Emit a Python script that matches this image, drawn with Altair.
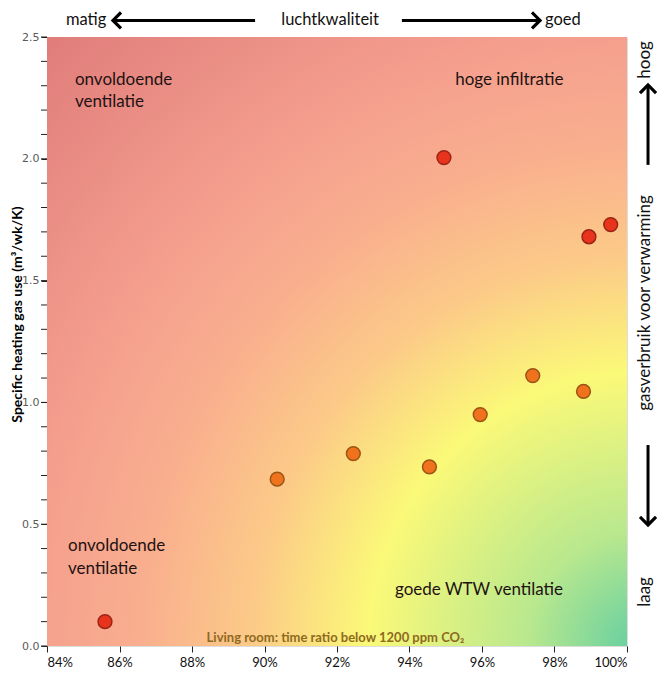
import altair as alt
import pandas as pd

# ---- data ----
ratio = [0.856, 0.9035, 0.9245, 0.9455, 0.9595, 0.974, 0.988, 0.9895, 0.9955, 0.9495]
gas_use = [0.10, 0.685, 0.79, 0.735, 0.95, 1.11, 1.045, 1.68, 1.73, 2.005]
group = ["rood", "oranje", "oranje", "oranje", "oranje", "oranje", "oranje", "rood", "rood", "rood"]

x_ticks = [0.84, 0.86, 0.88, 0.90, 0.92, 0.94, 0.96, 0.98, 1.00]
y_ticks = [0.0, 0.5, 1.0, 1.5, 2.0, 2.5]
y_minor = [round(i * 0.1, 1) for i in range(26)]

# in-plot labels
lab_text = ["onvoldoende", "ventilatie", "hoge infiltratie", "onvoldoende", "ventilatie", "goede WTW ventilatie"]
lab_x = [0.8477, 0.8477, 0.9526, 0.8458, 0.8458, 0.9360]
lab_y = [2.323, 2.233, 2.323, 0.410, 0.316, 0.230]

# top (air quality) annotation
top_text = ["matig", "luchtkwaliteit", "goed"]
top_x = [0.8508, 0.9181, 0.9823]
top_y = 2.568

# right (gas use) annotation
right_text = ["hoog", "gasverbruik voor verwarming", "laag"]
right_y = [2.406, 1.408, 0.222]
right_x = 1.005

FONT = "Lato"

pts = pd.DataFrame({"ratio": ratio, "gas": gas_use, "group": group})
labs = pd.DataFrame({"t": lab_text, "x": lab_x, "y": lab_y})
tops = pd.DataFrame({"t": top_text, "x": top_x, "y": [top_y] * 3})
rights = pd.DataFrame({"t": right_text, "x": [right_x] * 3, "y": right_y})
bg = pd.DataFrame({"x": [0.84], "x2": [1.0], "y": [0.0], "y2": [2.5]})
minor = pd.DataFrame({"y": y_minor, "x": [0.83917] * len(y_minor)})

xs = alt.Scale(domain=[0.84, 1.0], nice=False, zero=False)
ys = alt.Scale(domain=[0, 2.5], nice=False, zero=False)

gradient = {
    "gradient": "radial",
    "x1": 1, "y1": 1, "r1": 0,
    "x2": 1, "y2": 1, "r2": 1.45,
    "stops": [
        {"offset": 0.0, "color": "#62cea2"},
        {"offset": 0.13, "color": "#b9e88e"},
        {"offset": 0.31, "color": "#fbf978"},
        {"offset": 0.44, "color": "#fcca88"},
        {"offset": 0.57, "color": "#f9ae8e"},
        {"offset": 0.70, "color": "#f49e8e"},
        {"offset": 1.0, "color": "#dd7878"},
    ],
}

background = alt.Chart(bg).mark_rect(fill=gradient).encode(
    x=alt.X("x:Q", scale=xs,
            axis=alt.Axis(values=x_ticks, format=".0%", title="Living room: time ratio below 1200 ppm CO₂",
                          grid=False, domain=False, tickSize=6, tickColor="#222", labelFont=FONT,
                          labelFontSize=13, labelColor="#111", labelPadding=4, zindex=1,
                          titleFont=FONT, titleFontSize=13, titleFontWeight="bold", titleColor="#8f6a1e",
                          titleX=288, titleY=-9, titleBaseline="middle", titleAnchor="middle")),
    x2="x2:Q",
    y=alt.Y("y:Q", scale=ys,
            axis=alt.Axis(values=y_ticks, format=".1f", labelOverlap=False,
                          title="Specific heating gas use (m³/wk/K)",
                          grid=False, domain=False, tickSize=6, tickColor="#222",
                          labelFont="DejaVu Sans", labelFontSize=11, labelColor="#5a5a5a", labelPadding=2,
                          titleFont=FONT, titleFontSize=14, titleFontWeight="bold", titleColor="#000",
                          titleX=-30, titleY=277, titleBaseline="middle", titleAngle=270)),
    y2="y2:Q",
)

minor_ticks = alt.Chart(minor).mark_tick(orient="horizontal", size=6, thickness=1, color="#222", opacity=1).encode(
    x=alt.X("x:Q", scale=xs), y=alt.Y("y:Q", scale=ys)
)

points = alt.Chart(pts).mark_point(filled=True, size=190, strokeWidth=1.5, opacity=1).encode(
    x=alt.X("ratio:Q", scale=xs),
    y=alt.Y("gas:Q", scale=ys),
    fill=alt.Fill("group:N", scale=alt.Scale(domain=["rood", "oranje"], range=["#e8341c", "#f0721c"]), legend=None),
    stroke=alt.Stroke("group:N", scale=alt.Scale(domain=["rood", "oranje"], range=["#9c2414", "#9a5416"]), legend=None),
)

labels = alt.Chart(labs).mark_text(align="left", baseline="middle", font=FONT, fontSize=17, color="#1e1212").encode(
    x=alt.X("x:Q", scale=xs), y=alt.Y("y:Q", scale=ys), text="t:N"
)

top_labels = alt.Chart(tops).mark_text(align="center", baseline="middle", font=FONT, fontSize=16.5, color="#111").encode(
    x=alt.X("x:Q", scale=xs), y=alt.Y("y:Q", scale=ys), text="t:N"
)

right_labels = alt.Chart(rights).mark_text(align="center", baseline="middle", font=FONT, fontSize=17,
                                           color="#111", angle=270).encode(
    x=alt.X("x:Q", scale=xs), y=alt.Y("y:Q", scale=ys), text="t:N"
)

# arrows
h_arrows = pd.DataFrame({"x": [0.8585, 0.9379], "x2": [0.8974, 0.9755], "y": [top_y, top_y]})
v_arrows = pd.DataFrame({"x": [1.0058, 1.0058], "y": [2.300, 0.825], "y2": [1.975, 0.500]})

h_lines = alt.Chart(h_arrows).mark_rule(strokeWidth=3, color="#000").encode(
    x=alt.X("x:Q", scale=xs), x2="x2:Q", y=alt.Y("y:Q", scale=ys)
)
v_lines = alt.Chart(v_arrows).mark_rule(strokeWidth=3, color="#000").encode(
    x=alt.X("x:Q", scale=xs), y=alt.Y("y:Q", scale=ys), y2="y2:Q"
)

heads = pd.DataFrame({
    "x": [0.8582, 0.9760, 1.0058, 1.0058],
    "y": [top_y, top_y, 2.303, 0.497],
    "dir": ["left", "right", "up", "down"],
})
head_shapes = {
    "left": "M 1 -1 L 0 0 L 1 1",
    "right": "M -1 -1 L 0 0 L -1 1",
    "up": "M -1 1 L 0 0 L 1 1",
    "down": "M -1 -1 L 0 0 L 1 -1",
}
head_layers = []
for d, path in head_shapes.items():
    head_layers.append(
        alt.Chart(heads[heads["dir"] == d]).mark_point(shape=path, filled=False, size=190, strokeWidth=3.2,
                                                        color="#000", opacity=1, strokeCap="square",
                                                        strokeJoin="miter").encode(
            x=alt.X("x:Q", scale=xs), y=alt.Y("y:Q", scale=ys)
        )
    )

chart = alt.layer(background, minor_ticks, points, labels, top_labels, right_labels, h_lines, v_lines,
                  *head_layers).properties(
    width=580, height=609,
    autosize=alt.AutoSizeParams(type="none"),
    padding={"left": 39, "top": 29, "right": 37, "bottom": 24},
).configure_view(stroke="#3c5070", strokeWidth=2).configure(background="white")

chart.save("out.html", embed_options={"renderer": "svg", "actions": False})
